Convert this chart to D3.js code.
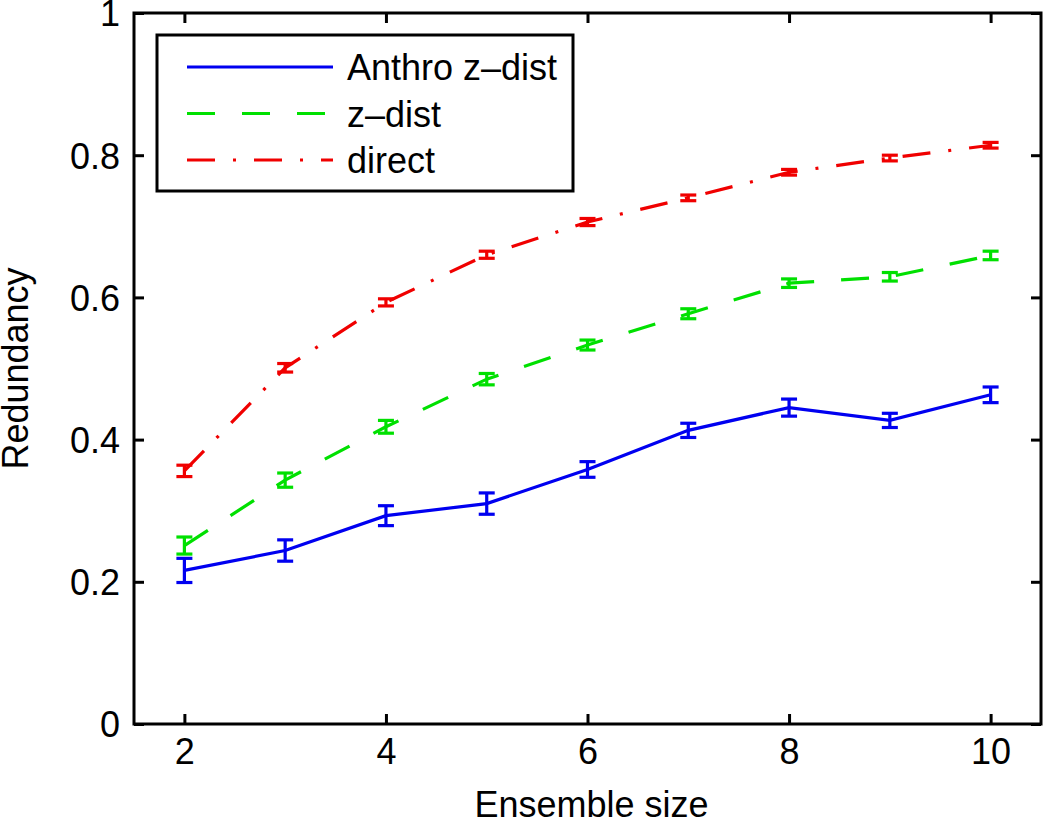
<!DOCTYPE html>
<html>
<head>
<meta charset="utf-8">
<script src="https://cdn.jsdelivr.net/npm/d3@7/dist/d3.min.js"></script>
<style>
  html, body { margin: 0; padding: 0; background: #fff; }
  svg text { font-family: "Liberation Sans", Arial, Helvetica, sans-serif; fill: #000; }
</style>
</head>
<body>
<svg id="chart" width="1050" height="833"></svg>
<script>
// ---- data ----
const ensembleSizes = [2, 3, 4, 5, 6, 7, 8, 9, 10];
const anthroZDist    = [0.216, 0.244, 0.293, 0.310, 0.358, 0.413, 0.445, 0.427, 0.463];
const anthroZDistErr = [0.017, 0.015, 0.014, 0.015, 0.011, 0.010, 0.012, 0.010, 0.011];
const zDist          = [0.251, 0.343, 0.418, 0.485, 0.533, 0.577, 0.620, 0.629, 0.659];
const zDistErr       = [0.012, 0.010, 0.009, 0.008, 0.007, 0.007, 0.006, 0.006, 0.006];
const direct         = [0.356, 0.501, 0.593, 0.660, 0.706, 0.740, 0.776, 0.796, 0.814];
const directErr      = [0.008, 0.006, 0.005, 0.005, 0.005, 0.004, 0.004, 0.004, 0.004];
const seriesNames = ["Anthro z\u2013dist", "z\u2013dist", "direct"];
const xTicks = [2, 4, 6, 8, 10];
const yTicks = [0, 0.2, 0.4, 0.6, 0.8, 1];
const xLabel = "Ensemble size";
const yLabel = "Redundancy";

// ---- layout ----
const svg = d3.select("#chart");
const L = 134, R = 1041, T = 13, B = 724;
const x = d3.scaleLinear().domain([1.5, 10.5]).range([L, R]);
const y = d3.scaleLinear().domain([0, 1]).range([B, T]);

const series = [
  { name: seriesNames[0], vals: anthroZDist, err: anthroZDistErr, color: "#0000f0", dash: null },
  { name: seriesNames[1], vals: zDist, err: zDistErr, color: "#00e000", dash: "28,27" },
  { name: seriesNames[2], vals: direct, err: directErr, color: "#f00000", dash: "28,18,3,18" }
];

const fontSize = 36;
const tickLen = 10;

// axes (MATLAB box style, ticks inside)
const gx = svg.append("g").attr("transform", `translate(0,${B})`)
  .call(d3.axisBottom(x).tickValues(xTicks).tickSize(-tickLen).tickPadding(14).tickFormat(d3.format("d")));
const gxTop = svg.append("g").attr("transform", `translate(0,${T})`)
  .call(d3.axisTop(x).tickValues(xTicks).tickSize(-tickLen).tickFormat(""));
const gy = svg.append("g").attr("transform", `translate(${L},0)`)
  .call(d3.axisLeft(y).tickValues(yTicks).tickSize(-tickLen).tickPadding(14).tickFormat(d => d === 0 || d === 1 ? d3.format("d")(d) : d3.format(".1f")(d)));
const gyRight = svg.append("g").attr("transform", `translate(${R},0)`)
  .call(d3.axisRight(y).tickValues(yTicks).tickSize(-tickLen).tickFormat(""));

[gx, gxTop, gy, gyRight].forEach(g => {
  g.select(".domain").remove();
  g.selectAll(".tick line").attr("stroke", "#000").attr("stroke-width", 3);
  g.selectAll(".tick text").attr("font-size", fontSize).attr("font-family", "Liberation Sans, Arial, sans-serif").attr("fill", "#000");
});
gy.selectAll(".tick text").attr("dy", "0.36em");

// data lines
const line = d3.line().x((d, i) => x(ensembleSizes[i])).y(d => y(d));
const plot = svg.append("g");
series.forEach(s => {
  plot.append("path")
    .attr("d", line(s.vals))
    .attr("fill", "none")
    .attr("stroke", s.color)
    .attr("stroke-width", 3.2)
    .attr("stroke-dasharray", s.dash);
  const cap = 8;
  const eb = plot.append("g").attr("stroke", s.color).attr("stroke-width", 3.2).attr("fill", "none");
  s.vals.forEach((v, i) => {
    const cx = x(ensembleSizes[i]);
    const y0 = y(v - s.err[i]), y1 = y(v + s.err[i]);
    eb.append("line").attr("x1", cx).attr("x2", cx).attr("y1", y0).attr("y2", y1);
    eb.append("line").attr("x1", cx - cap).attr("x2", cx + cap).attr("y1", y0).attr("y2", y0);
    eb.append("line").attr("x1", cx - cap).attr("x2", cx + cap).attr("y1", y1).attr("y2", y1);
  });
});

// box
svg.append("rect").attr("x", L).attr("y", T).attr("width", R - L).attr("height", B - T)
  .attr("fill", "none").attr("stroke", "#000").attr("stroke-width", 3);

// axis labels
svg.append("text").attr("x", (L + R) / 2 + 4).attr("y", 817).attr("text-anchor", "middle")
  .attr("font-size", fontSize).text(xLabel);
svg.append("text").attr("transform", `translate(28,${(T + B) / 2}) rotate(-90)`)
  .attr("text-anchor", "middle").attr("font-size", fontSize).text(yLabel);

// legend
const lg = svg.append("g");
lg.append("rect").attr("x", 157).attr("y", 35).attr("width", 416).attr("height", 156)
  .attr("fill", "#fff").attr("stroke", "#000").attr("stroke-width", 3);
series.forEach((s, i) => {
  const ly = 67 + i * 46.5;
  lg.append("line").attr("x1", 187).attr("x2", 333).attr("y1", ly).attr("y2", ly)
    .attr("stroke", s.color).attr("stroke-width", 3.2).attr("stroke-dasharray", s.dash);
  lg.append("text").attr("x", 347).attr("y", ly + 13).attr("font-size", fontSize).text(s.name);
});
</script>
</body>
</html>
